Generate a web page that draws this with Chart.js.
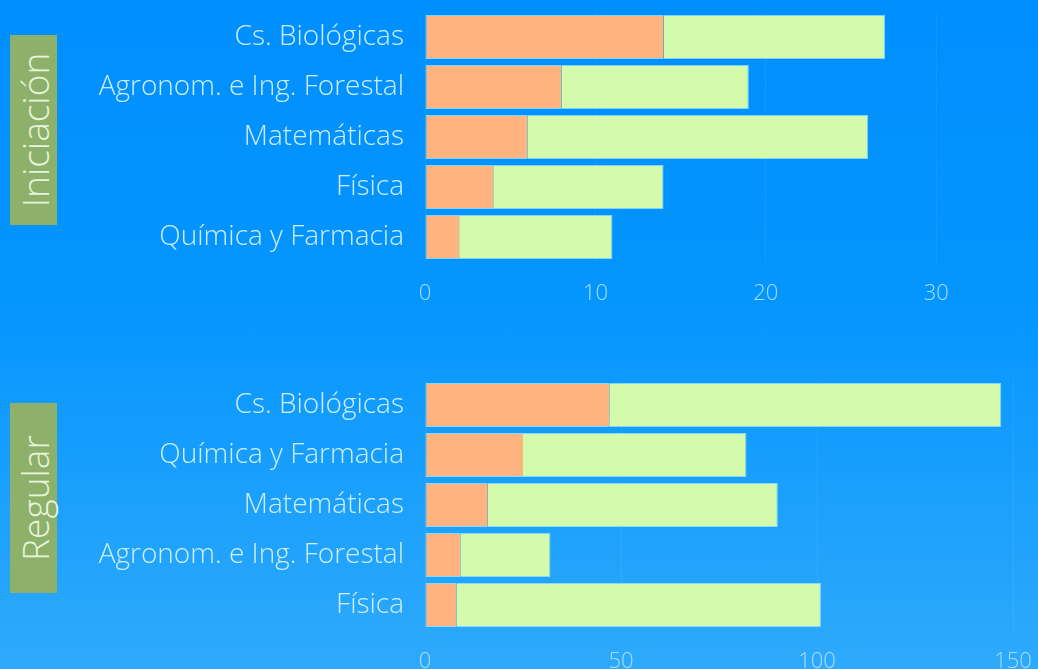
<!DOCTYPE html>
<html>
<head>
<meta charset="utf-8">
<script src="https://cdn.jsdelivr.net/npm/chart.js@4/dist/chart.umd.min.js"></script>
<style>
  html, body { margin: 0; padding: 0; }
  body {
    width: 1038px; height: 669px; position: relative; overflow: hidden;
    background: linear-gradient(180deg, #008ffe 0%, #0595fe 45%, #2eaafb 100%);
    font-family: "Open Sans", sans-serif;
  }
  .wrap { position: absolute; left: 0; width: 1038px; }
  .tag {
    position: absolute; left: 10px; width: 47px; height: 190px;
    background: #8db06a;
  }
  .tag span {
    position: absolute; left: 50%; top: 50%;
    transform: translate(-50%, -50%) rotate(-90deg);
    white-space: nowrap; color: #e6f6da; font-size: 37px; font-weight: 300;
    font-family: "Open Sans", sans-serif;
  }
</style>
</head>
<body>
<div class="tag" style="top:35px"><span id="tag1"></span></div>
<div class="tag" style="top:403px"><span id="tag2"></span></div>
<div class="wrap" style="top:0px;height:312px"><canvas id="c1"></canvas></div>
<div class="wrap" style="top:360px;height:320px"><canvas id="c2"></canvas></div>
<script>
const groupTitles = ["Iniciación", "Regular"];

const iniCategories = ["Cs. Biológicas", "Agronom. e Ing. Forestal", "Matemáticas", "Física", "Química y Farmacia"];
const iniOrange = [14, 8, 6, 4, 2];
const iniGreen = [13, 11, 20, 10, 9];
const iniTicks = [0, 10, 20, 30];
const iniMax = 34.5;

const regCategories = ["Cs. Biológicas", "Química y Farmacia", "Matemáticas", "Agronom. e Ing. Forestal", "Física"];
const regOrange = [47, 25, 16, 9, 8];
const regGreen = [100, 57, 74, 23, 93];
const regTicks = [0, 50, 100, 150];
const regMax = 150;

document.getElementById('tag1').textContent = groupTitles[0];
document.getElementById('tag2').textContent = groupTitles[1];

const ORANGE = '#ffb47f';
const GREEN = '#d3fbab';
const EDGE = 'rgba(170,235,255,0.75)';

function makeChart(id, cats, orange, green, ticks, max, padTop) {
  return new Chart(document.getElementById(id), {
    type: 'bar',
    data: {
      labels: cats,
      datasets: [
        { data: orange, backgroundColor: ORANGE, borderColor: EDGE,
          borderWidth: {top: 1, bottom: 1, left: 1, right: 0}, borderSkipped: false,
          barPercentage: 0.88, categoryPercentage: 1 },
        { data: green, backgroundColor: GREEN, borderColor: EDGE,
          borderWidth: {top: 1, bottom: 1, left: 0, right: 1}, borderSkipped: false,
          barPercentage: 0.88, categoryPercentage: 1 }
      ]
    },
    options: {
      indexAxis: 'y',
      responsive: true,
      maintainAspectRatio: false,
      animation: false,
      layout: { autoPadding: false, padding: { top: padTop, right: 25, left: 0, bottom: 0 } },
      plugins: { legend: { display: false }, tooltip: { enabled: false } },
      scales: {
        x: {
          stacked: true, min: 0, max: max,
          grid: { color: 'rgba(255,255,255,0.07)', drawTicks: false },
          border: { display: false },
          afterBuildTicks: (s) => { s.ticks = ticks.map(v => ({ value: v })); },
          afterFit: (s) => { s.height = 50; s.paddingLeft = 0; s.paddingRight = 0; },
          ticks: { padding: 19, color: '#a9ddff', font: { family: 'Open Sans', size: 22, weight: '300' } }
        },
        y: {
          stacked: true,
          grid: { display: false, drawTicks: false },
          border: { display: false },
          afterFit: (s) => { s.width = 425; s.paddingTop = 0; s.paddingBottom = 0; },
          ticks: { padding: 21, color: '#cdeeff', font: { family: 'Open Sans', size: 28, weight: '300' } }
        }
      }
    }
  });
}

makeChart('c1', iniCategories, iniOrange, iniGreen, iniTicks, iniMax, 12);
makeChart('c2', regCategories, regOrange, regGreen, regTicks, regMax, 20);
</script>
</body>
</html>
